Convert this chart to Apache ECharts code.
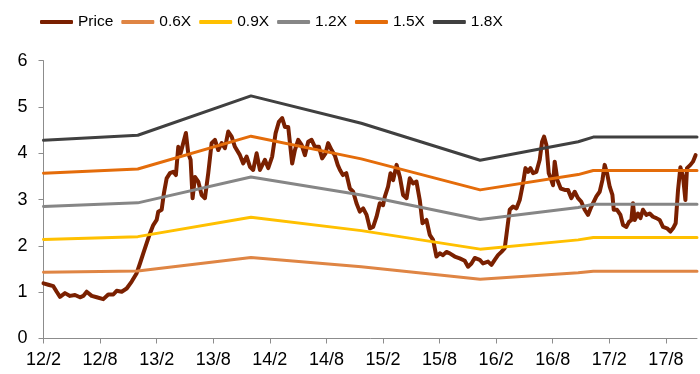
<!DOCTYPE html>
<html>
<head>
<meta charset="utf-8">
<script src="https://cdn.jsdelivr.net/npm/echarts@6/dist/echarts.min.js"></script>
<style>
  html, body { margin: 0; padding: 0; background: #fff; }
  #chart { width: 700px; height: 374px; }
</style>
</head>
<body>
<div id="chart"></div>
<script>
// x positions are months counted from Feb 2012 (0 = 12/2, 6 = 12/8, ...)
const tickMonths = [0, 6, 12, 18, 24, 30, 36, 42, 48, 54, 60, 66];
const tickLabels = ['12/2', '12/8', '13/2', '13/8', '14/2', '14/8', '15/2', '15/8', '16/2', '16/8', '17/2', '17/8'];

// Share price
const priceMonth = [
  0.00, 0.51, 1.04, 1.40, 1.75, 2.28, 2.81, 3.34, 3.87, 4.22, 4.58, 5.11, 5.64, 6.34, 6.87, 7.40,
  7.76, 8.29, 8.82, 9.35, 9.88, 10.23, 10.58, 10.94, 11.29, 11.64, 12.00, 12.17, 12.53, 12.77, 13.06,
  13.41, 13.76, 14.04, 14.29, 14.54, 14.82, 15.10, 15.35, 15.60, 15.81, 16.06, 16.41, 16.77, 17.12,
  17.47, 17.83, 18.18, 18.53, 18.89, 19.24, 19.59, 19.95, 20.30, 20.83, 21.18, 21.54, 21.89, 22.24,
  22.60, 22.95, 23.48, 23.83, 24.25, 24.61, 24.96, 25.31, 25.60, 25.95, 26.37, 26.66, 27.01, 27.37,
  27.72, 28.07, 28.43, 28.78, 29.20, 29.55, 29.91, 30.19, 30.55, 30.90, 31.20, 31.44, 31.75, 32.11,
  32.49, 32.84, 33.19, 33.54, 33.90, 34.26, 34.61, 34.96, 35.32, 35.66, 36.01, 36.19, 36.54, 36.80,
  37.08, 37.44, 37.79, 38.13, 38.50, 38.84, 39.19, 39.55, 39.90, 40.19, 40.61, 40.96, 41.31, 41.67,
  42.02, 42.37, 42.73, 43.08, 43.61, 44.14, 44.67, 45.02, 45.38, 45.73, 46.26, 46.61, 47.14, 47.50,
  47.85, 48.20, 48.56, 48.91, 49.20, 49.44, 49.79, 50.15, 50.50, 50.85, 51.11, 51.39, 51.64, 51.91,
  52.27, 52.62, 52.87, 53.08, 53.33, 53.58, 53.79, 54.03, 54.21, 54.50, 54.85, 55.27, 55.62, 55.98,
  56.33, 56.68, 57.04, 57.39, 57.74, 58.10, 58.63, 58.98, 59.27, 59.51, 59.76, 60.04, 60.33, 60.47,
  60.82, 61.18, 61.46, 61.81, 62.09, 62.34, 62.51, 62.69, 63.04, 63.30, 63.57, 63.93, 64.28, 64.63,
  64.99, 65.34, 65.69, 66.12, 66.48, 66.76, 67.04, 67.29, 67.54, 67.82, 68.07, 68.24, 68.60, 68.87,
  69.15
];
const priceValue = [
  1.19, 1.16, 1.13, 1.01, 0.90, 0.98, 0.92, 0.94, 0.89, 0.92, 1.01, 0.92, 0.89, 0.85, 0.95, 0.95,
  1.03, 1.01, 1.08, 1.23, 1.41, 1.62, 1.84, 2.06, 2.27, 2.45, 2.56, 2.74, 2.78, 3.14, 3.46,
  3.57, 3.60, 3.53, 4.14, 4.00, 4.22, 4.44, 4.00, 3.86, 3.03, 3.49, 3.39, 3.10, 3.03,
  3.57, 4.22, 4.29, 4.07, 4.22, 4.11, 4.47, 4.36, 4.14, 3.96, 3.78, 3.93, 3.71, 3.64,
  4.00, 3.64, 3.86, 3.68, 3.93, 4.43, 4.68, 4.76, 4.57, 4.57, 3.78, 4.07, 4.29, 4.18,
  3.96, 4.25, 4.29, 4.14, 4.14, 3.89, 4.00, 4.22, 4.07, 3.95, 3.75, 3.64, 3.53, 3.57,
  3.24, 3.17, 2.92, 2.74, 2.81, 2.67, 2.38, 2.41, 2.63, 2.92, 2.88, 3.06, 3.28, 3.57,
  3.42, 3.75, 3.49, 3.10, 3.03, 3.46, 3.35, 3.39, 2.99, 2.49, 2.56, 2.24, 2.13, 1.77,
  1.84, 1.80, 1.87, 1.84, 1.77, 1.73, 1.68, 1.55, 1.62, 1.74, 1.70, 1.62, 1.66, 1.59,
  1.70, 1.80, 1.87, 1.95, 2.41, 2.78, 2.85, 2.81, 2.99, 3.35, 3.68, 3.60, 3.68, 3.57,
  3.60, 3.86, 4.25, 4.36, 4.18, 3.57, 3.46, 3.31, 3.82, 3.42, 3.24, 3.21, 3.21, 3.03,
  3.17, 3.03, 2.95, 2.78, 2.67, 2.85, 3.07, 3.17, 3.42, 3.75, 3.57, 3.28, 3.10, 2.78,
  2.78, 2.67, 2.45, 2.41, 2.52, 2.56, 2.92, 2.56, 2.70, 2.60, 2.78, 2.67, 2.70, 2.63,
  2.60, 2.56, 2.41, 2.38, 2.31, 2.38, 2.49, 3.21, 3.70, 3.49, 2.99, 3.68, 3.75, 3.82,
  3.96
];

// Multiple bands (turning points of each band line)
const bandMonth = [0, 10, 22, 33.7, 46.3, 56.7, 58.3, 69.3];
const band06 = [1.43, 1.46, 1.75, 1.55, 1.28, 1.42, 1.45, 1.45];
const band09 = [2.14, 2.20, 2.62, 2.33, 1.93, 2.13, 2.18, 2.18];
const band12 = [2.85, 2.93, 3.49, 3.10, 2.57, 2.83, 2.90, 2.90];
const band15 = [3.57, 3.66, 4.37, 3.88, 3.21, 3.54, 3.63, 3.63];
const band18 = [4.28, 4.39, 5.24, 4.65, 3.85, 4.25, 4.35, 4.35];

const seriesNames = ['Price', '0.6X', '0.9X', '1.2X', '1.5X', '1.8X'];
const seriesColors = ['#7A2000', '#DF8544', '#FFC000', '#868686', '#E46C0A', '#404040'];

const pairs = (xs, ys) => xs.map((x, i) => [x, ys[i]]);

const chart = echarts.init(document.getElementById('chart'), null, { renderer: 'canvas' });

const lineSeries = (name, data, width) => ({
  name: name,
  type: 'line',
  data: data,
  showSymbol: false,
  symbol: 'none',
  smooth: false,
  lineStyle: { width: width, color: seriesColors[seriesNames.indexOf(name)], cap: 'round', join: 'round' },
  itemStyle: { color: seriesColors[seriesNames.indexOf(name)] },
  emphasis: { disabled: true },
  animation: false
});

const axisGray = '#8C8C8C';
const font = 'Liberation Sans, Arial, sans-serif';

chart.setOption({
  animation: false,
  backgroundColor: '#ffffff',
  color: seriesColors,
  legend: {
    data: seriesNames,
    left: 40,
    top: 14,
    padding: 0,
    icon: 'roundRect',
    itemWidth: 33,
    itemHeight: 4,
    itemGap: 8,
    textStyle: { fontFamily: font, fontSize: 15.5, color: '#000' }
  },
  grid: { left: 43.5, right: 3, top: 60.7, bottom: 35.5 },
  xAxis: {
    type: 'value',
    min: 0,
    max: 69.3,
    interval: 6,
    splitLine: { show: false },
    axisLine: { show: true, lineStyle: { color: axisGray, width: 1 } },
    axisTick: { show: true, length: 5, lineStyle: { color: axisGray }, customValues: tickMonths },
    axisLabel: {
      customValues: tickMonths,
      margin: 13,
      fontFamily: font,
      fontSize: 18,
      color: '#000',
      formatter: v => {
        const i = tickMonths.indexOf(Math.round(v));
        return i >= 0 ? tickLabels[i] : '';
      }
    }
  },
  yAxis: {
    type: 'value',
    min: 0,
    max: 6,
    interval: 1,
    splitLine: { show: false },
    axisLine: { show: true, lineStyle: { color: axisGray, width: 1 } },
    axisTick: { show: true, length: 5, lineStyle: { color: axisGray } },
    axisLabel: { margin: 16, fontFamily: font, fontSize: 18, color: '#000' }
  },
  series: [
    lineSeries('Price', pairs(priceMonth, priceValue), 4),
    lineSeries('0.6X', pairs(bandMonth, band06), 3),
    lineSeries('0.9X', pairs(bandMonth, band09), 3),
    lineSeries('1.2X', pairs(bandMonth, band12), 3),
    lineSeries('1.5X', pairs(bandMonth, band15), 3),
    lineSeries('1.8X', pairs(bandMonth, band18), 3)
  ]
});
</script>
</body>
</html>
